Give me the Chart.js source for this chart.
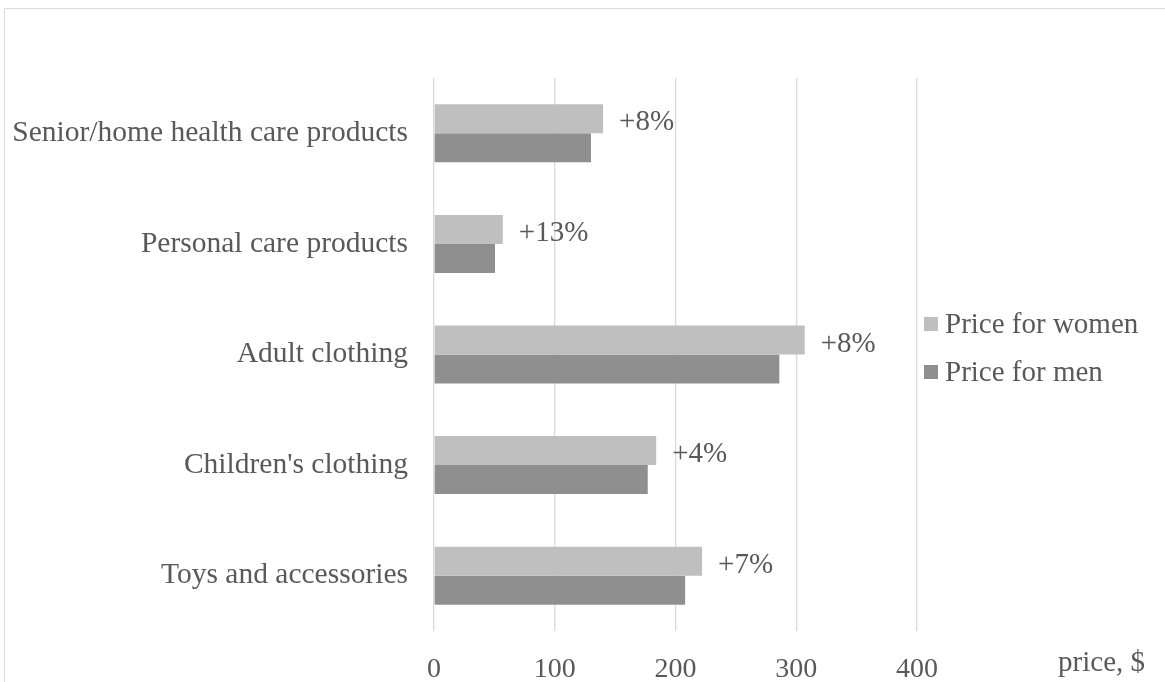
<!DOCTYPE html>
<html>
<head>
<meta charset="utf-8">
<script src="https://cdn.jsdelivr.net/npm/chart.js@4.4.1/dist/chart.umd.min.js"></script>
<style>
  html, body { margin: 0; padding: 0; background: #fff; }
  #wrap { width: 1165px; height: 682px; position: relative; }
</style>
</head>
<body>
<div id="wrap"><canvas id="priceChart" width="1165" height="682"></canvas></div>
<script>
'use strict';

// Data
const CATEGORIES = [
    'Senior/home health care products',
    'Personal care products',
    'Adult clothing',
    "Children's clothing",
    'Toys and accessories'
];
const WOMEN = [140, 57, 307, 184, 222];
const MEN = [130, 50.5, 286, 177, 208];
const PCT_LABELS = ['+8%', '+13%', '+8%', '+4%', '+7%'];
const X_TICKS = [0, 100, 200, 300, 400];
const AXIS_TITLE = 'price, $';

const FONT = '"Liberation Serif", "Times New Roman", serif';
const TEXT = '#595959';

// Plugins
let frame = {
    id: 'frame',
    beforeDraw: (chart) => {
        const ctx = chart.ctx;
        ctx.save();
        ctx.strokeStyle = '#d9d9d9';
        ctx.lineWidth = 1;
        ctx.beginPath();
        ctx.moveTo(4.5, 682);
        ctx.lineTo(4.5, 8.5);
        ctx.lineTo(1165, 8.5);
        ctx.stroke();
        ctx.restore();
    }
};

let extras = {
    id: 'extras',
    afterDatasetsDraw: (chart) => {
        const ctx = chart.ctx;
        const bars = chart.getDatasetMeta(0).data;
        ctx.save();
        ctx.font = '29px ' + FONT;
        ctx.fillStyle = TEXT;
        ctx.textAlign = 'left';
        ctx.textBaseline = 'middle';
        bars.forEach((bar, i) => {
            ctx.fillText(PCT_LABELS[i], bar.x + 16, bar.y + 4);
        });

        // legend
        const items = chart.data.datasets;
        items.forEach((ds, i) => {
            const cy = 324 + i * 48;
            ctx.fillStyle = ds.backgroundColor;
            ctx.fillRect(924, cy - 7, 14, 14);
            ctx.fillStyle = TEXT;
            ctx.fillText(ds.label, 945, cy + 1);
        });

        // axis title
        ctx.textAlign = 'right';
        ctx.textBaseline = 'alphabetic';
        ctx.fillText(AXIS_TITLE, 1145, 671);
        ctx.restore();
    }
};

let priceChart = () => {
    const DATA = {
        labels: CATEGORIES,
        datasets: [{
            label: 'Price for women',
            data: WOMEN,
            backgroundColor: '#bfbfbf'
        }, {
            label: 'Price for men',
            data: MEN,
            backgroundColor: '#8f8f8f'
        }]
    };

    const CONFIG = {
        type: 'bar',
        data: DATA,
        options: {
            indexAxis: 'y',
            responsive: false,
            animation: false,
            layout: { padding: { top: 78, right: 248, bottom: 0, left: 0 } },
            datasets: {
                bar: { categoryPercentage: 0.524, barPercentage: 1.0, borderWidth: 0 }
            },
            plugins: {
                legend: { display: false },
                tooltip: { enabled: false }
            },
            scales: {
                x: {
                    min: 0,
                    max: 400,
                    afterBuildTicks: (scale) => {
                        scale.ticks = X_TICKS.map(v => ({ value: v }));
                    },
                    afterFit: (scale) => { scale.height = 51; },
                    grid: { color: '#d9d9d9', lineWidth: 1.3, drawTicks: false },
                    border: { display: false },
                    ticks: {
                        padding: 22,
                        color: TEXT,
                        font: { family: FONT, size: 28 }
                    }
                },
                y: {
                    afterFit: (scale) => { scale.width = 434; },
                    grid: { display: false, drawTicks: false },
                    border: { display: false },
                    ticks: {
                        padding: 26,
                        color: TEXT,
                        font: { family: FONT, size: 29.5 }
                    }
                }
            }
        },
        plugins: [frame, extras]
    };

    const CHARTDOM = document.getElementById('priceChart');
    let chart = new Chart(CHARTDOM, CONFIG);
};

window.onload = () => {
    priceChart();
};
</script>
</body>
</html>
